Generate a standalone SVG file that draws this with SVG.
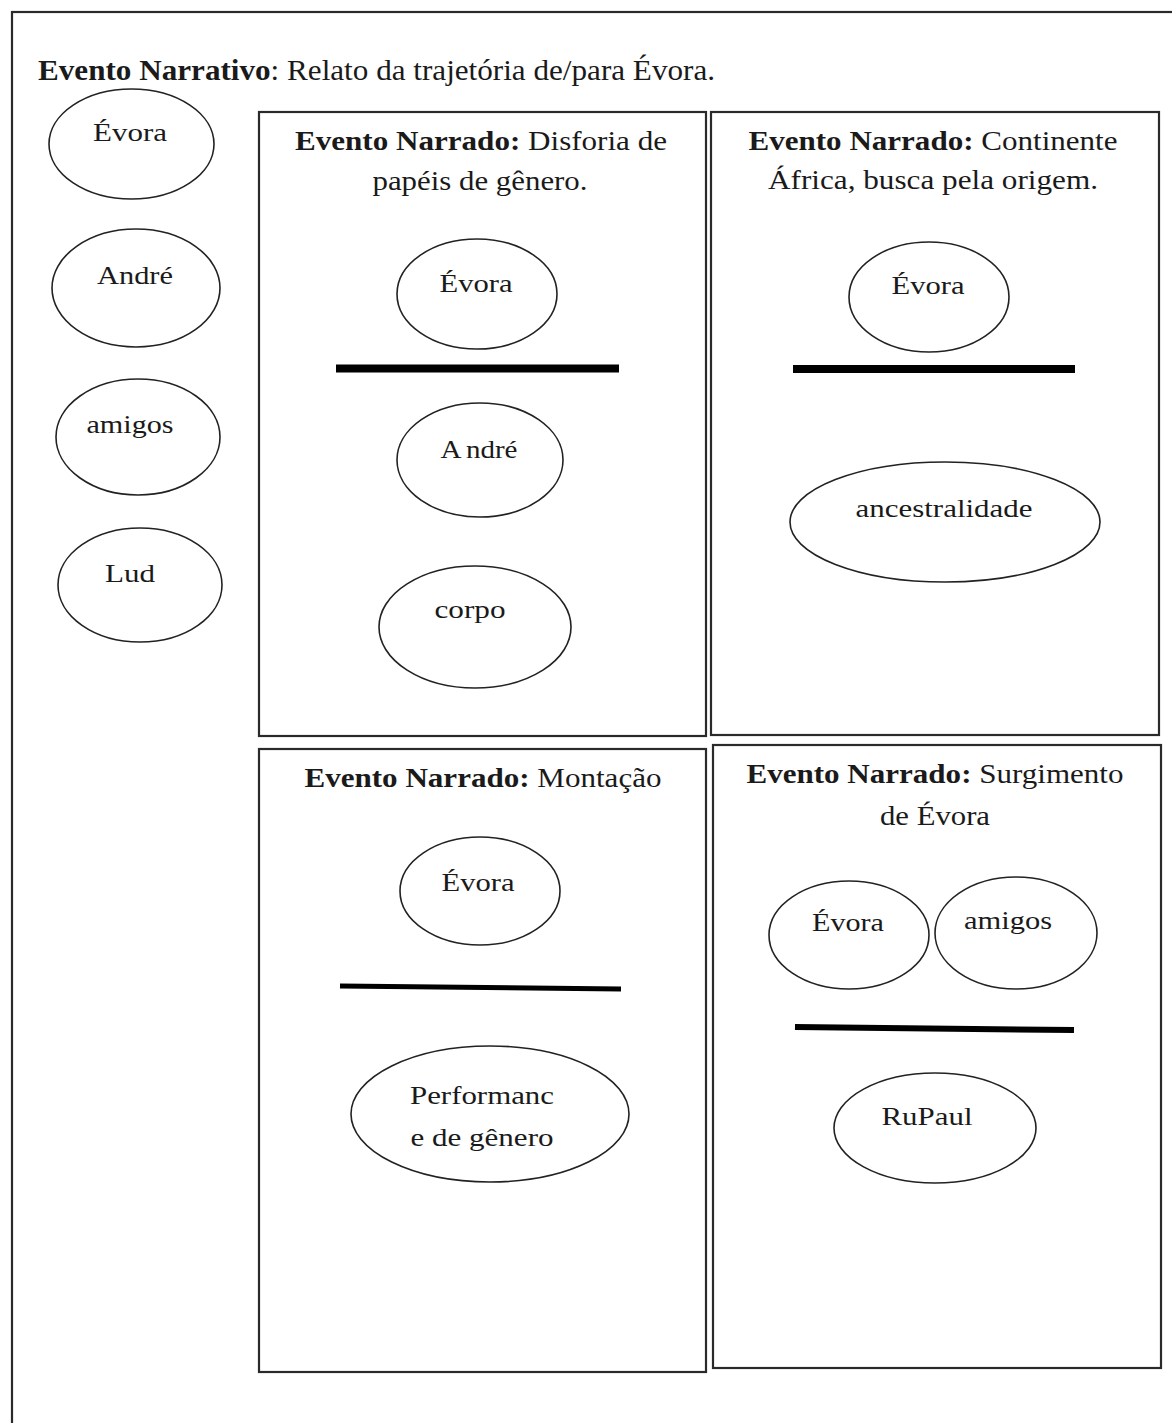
<svg xmlns="http://www.w3.org/2000/svg" width="1172" height="1423" viewBox="0 0 1172 1423">
<style>
text{font-family:"Liberation Serif","Times New Roman",serif;fill:#1a1a1a;}
.t{font-size:29px;}
.h{font-size:27px;text-anchor:middle;}
.l{font-size:26px;text-anchor:middle;}
.b{font-weight:bold;}
.box{fill:#fff;stroke:#2a2a2a;stroke-width:2.2;}
.el{fill:#fff;stroke:#222;stroke-width:1.6;}
.bar{stroke:#000;stroke-linecap:butt;}
</style>
<rect width="1172" height="1423" fill="#fff"/>
<rect id="frame" x="12" y="12" width="1180" height="1440" fill="none" stroke="#2a2a2a" stroke-width="2.2"/>
<g id="title">
<text class="t" x="38" y="80" textLength="677" lengthAdjust="spacingAndGlyphs"><tspan class="b">Evento Narrativo</tspan>: Relato da trajetória de/para Évora.</text>
</g>
<g id="left-evora"><ellipse class="el" cx="131.5" cy="144" rx="82.5" ry="55"/><text class="l" x="130" y="141" textLength="74" lengthAdjust="spacingAndGlyphs">Évora</text></g>
<g id="left-andre"><ellipse class="el" cx="136" cy="288" rx="84" ry="59"/><text class="l" x="135" y="284" textLength="76" lengthAdjust="spacingAndGlyphs">André</text></g>
<g id="left-amigos"><ellipse class="el" cx="138" cy="437" rx="82" ry="58"/><text class="l" x="130" y="433" textLength="87" lengthAdjust="spacingAndGlyphs">amigos</text></g>
<g id="left-lud"><ellipse class="el" cx="140" cy="585" rx="82" ry="57"/><text class="l" x="130" y="582" textLength="50" lengthAdjust="spacingAndGlyphs">Lud</text></g>

<g id="box-disforia">
<rect class="box" x="259" y="112" width="447" height="624"/>
<text class="h" x="481" y="150" textLength="372" lengthAdjust="spacingAndGlyphs"><tspan class="b">Evento Narrado:</tspan> Disforia de</text>
<text class="h" x="480" y="190" textLength="215" lengthAdjust="spacingAndGlyphs">papéis de gênero.</text>
</g>
<g id="b1-evora"><ellipse class="el" cx="477" cy="294" rx="80" ry="55"/><text class="l" x="476" y="292" textLength="73" lengthAdjust="spacingAndGlyphs">Évora</text></g>
<g id="b1-andre"><ellipse class="el" cx="480" cy="460" rx="83" ry="57"/><text class="l" x="479" y="458" textLength="77" lengthAdjust="spacingAndGlyphs">A<tspan dx="4">ndré</tspan></text></g>
<g id="b1-corpo"><ellipse class="el" cx="475" cy="627" rx="96" ry="61"/><text class="l" x="470" y="618" textLength="71" lengthAdjust="spacingAndGlyphs">corpo</text></g>

<g id="box-africa">
<rect class="box" x="711" y="112" width="448" height="623"/>
<text class="h" x="933" y="150" textLength="369" lengthAdjust="spacingAndGlyphs"><tspan class="b">Evento Narrado:</tspan> Continente</text>
<text class="h" x="933" y="189" textLength="330" lengthAdjust="spacingAndGlyphs">África, busca pela origem.</text>
</g>
<g id="b2-evora"><ellipse class="el" cx="929" cy="297" rx="80" ry="55"/><text class="l" x="928" y="294" textLength="73" lengthAdjust="spacingAndGlyphs">Évora</text></g>
<g id="b2-ancestralidade"><ellipse class="el" cx="945" cy="522" rx="155" ry="60"/><text class="l" x="944" y="517" textLength="177" lengthAdjust="spacingAndGlyphs">ancestralidade</text></g>

<g id="box-montacao">
<rect class="box" x="259" y="749" width="447" height="623"/>
<text class="h" x="483" y="787" textLength="357" lengthAdjust="spacingAndGlyphs"><tspan class="b">Evento Narrado:</tspan> Montação</text>
</g>
<g id="b3-evora"><ellipse class="el" cx="480" cy="891" rx="80" ry="54"/><text class="l" x="478" y="891" textLength="73" lengthAdjust="spacingAndGlyphs">Évora</text></g>
<g id="b3-performance"><ellipse class="el" cx="490" cy="1114" rx="139" ry="68"/><text class="l" x="482" y="1104" textLength="144" lengthAdjust="spacingAndGlyphs">Performanc</text><text class="l" x="482" y="1146" textLength="143" lengthAdjust="spacingAndGlyphs">e de gênero</text></g>

<g id="box-surgimento">
<rect class="box" x="713" y="745" width="448" height="623"/>
<text class="h" x="935" y="783" textLength="377" lengthAdjust="spacingAndGlyphs"><tspan class="b">Evento Narrado:</tspan> Surgimento</text>
<text class="h" x="935" y="825" textLength="110" lengthAdjust="spacingAndGlyphs">de Évora</text>
</g>
<g id="b4-evora"><ellipse class="el" cx="849" cy="935" rx="80" ry="54"/><text class="l" x="848" y="931" textLength="72" lengthAdjust="spacingAndGlyphs">Évora</text></g>
<g id="b4-amigos"><ellipse class="el" cx="1016" cy="933" rx="81" ry="56"/><text class="l" x="1008" y="929" textLength="88" lengthAdjust="spacingAndGlyphs">amigos</text></g>
<g id="b4-rupaul"><ellipse class="el" cx="935" cy="1128" rx="101" ry="55"/><text class="l" x="927" y="1125" textLength="91" lengthAdjust="spacingAndGlyphs">RuPaul</text></g>

<g id="connectors">
<line class="bar" x1="336" y1="368.5" x2="619" y2="368.5" stroke-width="8"/>
<line class="bar" x1="793" y1="369" x2="1075" y2="369" stroke-width="8"/>
<line class="bar" x1="340" y1="986" x2="621" y2="989" stroke-width="5"/>
<line class="bar" x1="795" y1="1027" x2="1074" y2="1030" stroke-width="6"/>
</g>
</svg>
